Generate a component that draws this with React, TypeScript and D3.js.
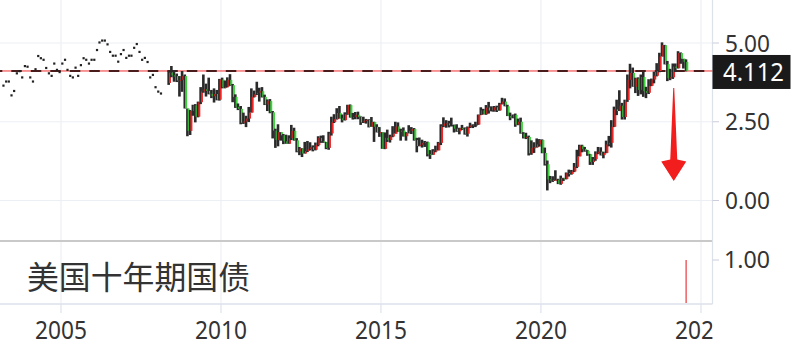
import React from 'react';
import * as d3 from 'd3';

// monthly closes drawn as dots, Mar 2003 onwards
const dotStart = [2003, 2];
const dotCloses = [
  3.65, 3.78, 3.78, 3.34, 3.48, 4.04, 4.11, 3.91, 4.27, 4.25, 3.91, 3.78,
  4.17, 4.59, 4.52, 4.47, 4.21, 4.04, 3.96, 4.35, 4.15, 4.08, 4.35, 4.47,
  4.15, 3.96, 3.91, 4.22, 3.96, 4.3, 4.52, 4.47, 4.35, 4.47, 4.47, 4.78,
  5.02, 5.08, 5.08, 4.96, 4.72, 4.6, 4.6, 4.41, 4.65, 4.78, 4.53, 4.6,
  4.6, 4.85, 4.97, 4.72, 4.47, 4.53, 4.4, 3.91, 3.99, 3.6, 3.46, 3.4,
];

// monthly candles [open, high, low, close], May 2008 onwards
const candleStart = [2008, 4];
const ohlc2008 = [
  [3.73, 4.1, 3.67, 4.06], [4.06, 4.27, 3.91, 3.97], [3.97, 4.14, 3.77, 3.95], [3.95, 4.03, 3.76, 3.81],
  [3.81, 3.95, 3.3, 3.83], [3.83, 4.11, 3.45, 3.95], [3.95, 4.0, 2.92, 2.92], [2.92, 2.92, 2.04, 2.21],
];
const ohlc2009 = [
  [2.21, 2.87, 2.08, 2.84], [2.84, 3.04, 2.69, 3.02], [3.02, 3.06, 2.48, 2.66], [2.66, 3.14, 2.64, 3.12],
  [3.12, 3.6, 3.06, 3.46], [3.46, 4.0, 3.42, 3.53], [3.53, 3.71, 3.3, 3.48], [3.48, 3.9, 3.37, 3.39],
  [3.39, 3.51, 3.25, 3.31], [3.31, 3.56, 3.11, 3.38], [3.38, 3.51, 3.18, 3.2], [3.2, 3.86, 3.17, 3.84],
];
const ohlc2010 = [
  [3.84, 3.9, 3.56, 3.59], [3.59, 3.81, 3.56, 3.61], [3.61, 3.91, 3.59, 3.83], [3.83, 4.01, 3.64, 3.66],
  [3.66, 3.7, 3.12, 3.29], [3.29, 3.37, 2.94, 2.97], [2.97, 3.08, 2.87, 2.91], [2.91, 3.0, 2.42, 2.47],
  [2.47, 2.79, 2.43, 2.51], [2.51, 2.69, 2.33, 2.6], [2.6, 2.97, 2.49, 2.79], [2.79, 3.56, 2.79, 3.29],
];
const ohlc2011 = [
  [3.29, 3.49, 3.27, 3.37], [3.37, 3.77, 3.35, 3.42], [3.42, 3.58, 3.14, 3.47], [3.47, 3.6, 3.27, 3.29],
  [3.29, 3.36, 3.03, 3.05], [3.05, 3.21, 2.84, 3.16], [3.16, 3.22, 2.77, 2.8], [2.8, 2.84, 1.97, 2.22],
  [2.22, 2.28, 1.67, 1.92], [1.92, 2.42, 1.72, 2.17], [2.17, 2.17, 1.9, 2.07], [2.07, 2.11, 1.79, 1.88],
];
const ohlc2012 = [
  [1.88, 2.09, 1.8, 1.8], [1.8, 2.07, 1.8, 1.98], [1.98, 2.4, 1.92, 2.21], [2.21, 2.31, 1.9, 1.91],
  [1.91, 1.98, 1.53, 1.56], [1.56, 1.7, 1.44, 1.65], [1.65, 1.66, 1.38, 1.49], [1.49, 1.86, 1.49, 1.57],
  [1.57, 1.89, 1.54, 1.63], [1.63, 1.85, 1.59, 1.69], [1.69, 1.75, 1.56, 1.61], [1.61, 1.84, 1.59, 1.76],
];
const ohlc2013 = [
  [1.76, 2.04, 1.72, 1.99], [1.99, 2.06, 1.83, 1.88], [1.88, 2.07, 1.83, 1.85], [1.85, 1.86, 1.63, 1.67],
  [1.67, 2.18, 1.61, 2.13], [2.13, 2.66, 2.06, 2.49], [2.49, 2.74, 2.46, 2.58], [2.58, 2.93, 2.57, 2.78],
  [2.78, 3.0, 2.6, 2.61], [2.61, 2.73, 2.48, 2.55], [2.55, 2.8, 2.54, 2.74], [2.74, 3.04, 2.72, 3.03],
];
const ohlc2014 = [
  [3.03, 3.05, 2.63, 2.64], [2.64, 2.78, 2.57, 2.65], [2.65, 2.81, 2.58, 2.72], [2.72, 2.82, 2.58, 2.65],
  [2.65, 2.67, 2.4, 2.48], [2.48, 2.66, 2.46, 2.53], [2.53, 2.59, 2.44, 2.56], [2.56, 2.58, 2.32, 2.34],
  [2.34, 2.65, 2.34, 2.49], [2.49, 2.5, 1.86, 2.34], [2.34, 2.42, 2.16, 2.16], [2.16, 2.33, 2.02, 2.17],
];
const ohlc2015 = [
  [2.17, 2.17, 1.64, 1.64], [1.64, 2.16, 1.63, 1.99], [1.99, 2.25, 1.86, 1.92], [1.92, 2.09, 1.84, 2.03],
  [2.03, 2.36, 2.01, 2.12], [2.12, 2.5, 2.12, 2.35], [2.35, 2.48, 2.18, 2.18], [2.18, 2.28, 1.9, 2.22],
  [2.22, 2.32, 2.03, 2.04], [2.04, 2.17, 1.9, 2.14], [2.14, 2.39, 2.13, 2.21], [2.21, 2.33, 2.11, 2.27],
];
const ohlc2016 = [
  [2.27, 2.3, 1.9, 1.92], [1.92, 1.99, 1.53, 1.73], [1.73, 2.0, 1.72, 1.77], [1.77, 1.93, 1.68, 1.83],
  [1.83, 1.89, 1.7, 1.85], [1.85, 1.87, 1.4, 1.47], [1.47, 1.6, 1.32, 1.45], [1.45, 1.63, 1.45, 1.58],
  [1.58, 1.74, 1.53, 1.59], [1.59, 1.86, 1.59, 1.83], [1.83, 2.42, 1.76, 2.37], [2.37, 2.64, 2.33, 2.44],
];
const ohlc2017 = [
  [2.44, 2.55, 2.31, 2.45], [2.45, 2.53, 2.32, 2.39], [2.39, 2.63, 2.35, 2.39], [2.39, 2.41, 2.16, 2.28],
  [2.28, 2.42, 2.18, 2.2], [2.2, 2.31, 2.1, 2.3], [2.3, 2.4, 2.24, 2.29], [2.29, 2.32, 2.09, 2.12],
  [2.12, 2.35, 2.03, 2.33], [2.33, 2.47, 2.3, 2.38], [2.38, 2.42, 2.3, 2.41], [2.41, 2.5, 2.33, 2.41],
];
const ohlc2018 = [
  [2.41, 2.73, 2.4, 2.72], [2.72, 2.96, 2.71, 2.86], [2.86, 2.91, 2.73, 2.74], [2.74, 3.03, 2.72, 2.95],
  [2.95, 3.13, 2.76, 2.86], [2.86, 2.99, 2.83, 2.86], [2.86, 3.0, 2.82, 2.96], [2.96, 3.01, 2.81, 2.86],
  [2.86, 3.1, 2.85, 3.06], [3.06, 3.26, 3.05, 3.14], [3.14, 3.24, 2.99, 2.99], [2.99, 3.04, 2.68, 2.68],
];
const ohlc2019 = [
  [2.68, 2.79, 2.55, 2.63], [2.63, 2.73, 2.61, 2.72], [2.72, 2.76, 2.34, 2.41], [2.41, 2.6, 2.39, 2.5],
  [2.5, 2.63, 2.12, 2.12], [2.12, 2.17, 1.97, 2.0], [2.0, 2.15, 1.95, 2.02], [2.02, 2.06, 1.43, 1.5],
  [1.5, 1.91, 1.45, 1.67], [1.67, 1.85, 1.51, 1.69], [1.69, 1.97, 1.68, 1.78], [1.78, 1.95, 1.71, 1.92],
];
const ohlc2020 = [
  [1.92, 1.94, 1.5, 1.51], [1.51, 1.68, 1.11, 1.15], [1.15, 1.27, 0.32, 0.67], [0.67, 0.78, 0.55, 0.64],
  [0.64, 0.77, 0.59, 0.65], [0.65, 0.96, 0.63, 0.66], [0.66, 0.69, 0.52, 0.53], [0.53, 0.79, 0.5, 0.71],
  [0.71, 0.72, 0.62, 0.68], [0.68, 0.89, 0.67, 0.87], [0.87, 0.98, 0.76, 0.84], [0.84, 0.97, 0.82, 0.92],
];
const ohlc2021 = [
  [0.92, 1.19, 0.9, 1.07], [1.07, 1.61, 1.03, 1.4], [1.4, 1.77, 1.4, 1.74], [1.74, 1.77, 1.53, 1.63],
  [1.63, 1.7, 1.55, 1.58], [1.58, 1.6, 1.42, 1.47], [1.47, 1.48, 1.13, 1.22], [1.22, 1.38, 1.13, 1.31],
  [1.31, 1.56, 1.26, 1.49], [1.49, 1.7, 1.47, 1.55], [1.55, 1.69, 1.43, 1.44], [1.44, 1.55, 1.34, 1.51],
];
const ohlc2022 = [
  [1.51, 1.9, 1.5, 1.78], [1.78, 2.05, 1.72, 1.83], [1.83, 2.55, 1.68, 2.34], [2.34, 2.98, 2.33, 2.89],
  [2.89, 3.2, 2.71, 2.84], [2.84, 3.5, 2.84, 3.01], [3.01, 3.1, 2.57, 2.65], [2.65, 3.2, 2.57, 3.19],
  [3.19, 4.0, 3.13, 3.83], [3.83, 4.34, 3.56, 4.05], [4.05, 4.22, 3.61, 3.61], [3.61, 3.9, 3.41, 3.87],
];
const ohlc2023 = [
  [3.87, 3.91, 3.32, 3.51], [3.51, 4.0, 3.37, 3.92], [3.92, 4.09, 3.29, 3.47], [3.47, 3.61, 3.25, 3.42],
  [3.42, 3.85, 3.38, 3.64], [3.64, 3.87, 3.63, 3.84], [3.84, 4.09, 3.72, 3.96], [3.96, 4.36, 3.94, 4.11],
  [4.11, 4.69, 4.07, 4.57], [4.57, 5.02, 4.57, 4.93], [4.93, 4.94, 4.32, 4.33], [4.33, 4.43, 3.79, 3.88],
];
const ohlc2024 = [
  [3.88, 4.18, 3.82, 3.91], [3.91, 4.35, 3.86, 4.25], [4.25, 4.35, 4.08, 4.2], [4.2, 4.74, 4.19, 4.68],
  [4.68, 4.7, 4.34, 4.5], [4.5, 4.5, 4.19, 4.4], [4.4, 4.48, 4.1, 4.112],
];

const yearTicks = [2005, 2010, 2015, 2020, 2025];
const priceTicks = [5, 2.5, 0];
const volumeTicks = [1];
const volumeBars = [{ month: [2024, 6], value: 1 }];
const lastPrice = 4.112;
const arrowMarker = { month: [2024, 1], day: 25, from: 3.57, headAt: 1.3, to: 0.62 };
const title = '美国十年期国债';

const W = 800;
const H = 363;
const plotRight = 712.5;
const paneSplit = 241;
const paneBottom = 304;
const FONT = '"Noto Sans", "Open Sans", sans-serif';

const monthDate = (start: number[], i: number, day = 15) =>
  new Date(start[0], start[1] + i, day);

export default function App() {
  const x = d3
    .scaleTime()
    .domain([new Date(2005, 0, 1), new Date(2025, 0, 1)])
    .range([61, 701]);
  const y = d3.scaleLinear().domain([0, 5]).range([200.5, 43]);
  const yVol = d3.scaleLinear().domain([0, 1]).range([paneBottom - 1, 260]);

  const candles = [
    ...ohlc2008, ...ohlc2009, ...ohlc2010, ...ohlc2011, ...ohlc2012, ...ohlc2013,
    ...ohlc2014, ...ohlc2015, ...ohlc2016, ...ohlc2017, ...ohlc2018, ...ohlc2019,
    ...ohlc2020, ...ohlc2021, ...ohlc2022, ...ohlc2023, ...ohlc2024,
  ].map((d, i) => ({ date: monthDate(candleStart, i), o: d[0], h: d[1], l: d[2], c: d[3] }));

  const dots = dotCloses.map((v, i) => ({ date: monthDate(dotStart, i), v }));

  const ax = x(new Date(arrowMarker.month[0], arrowMarker.month[1], arrowMarker.day));
  const aTop = y(arrowMarker.from);
  const aHead = y(arrowMarker.headAt);
  const aBot = y(arrowMarker.to);
  const arrow = [
    [ax - 0.5, aTop], [ax + 0.5, aTop], [ax + 3.5, aHead], [ax + 12.5, aHead + 2],
    [ax, aBot], [ax - 12.5, aHead + 2], [ax - 3.5, aHead],
  ];

  const gridColor = '#eceff4';
  const textColor = '#333';

  return (
    <svg
      width={W}
      height={H}
      style={{ position: 'absolute', left: 0, top: 0, display: 'block', background: '#fff' }}
    >
      <defs>
        <clipPath id="plotClip">
          <rect x={0} y={0} width={plotRight} height={H} />
        </clipPath>
      </defs>

      {/* grid */}
      {yearTicks.map(t => (
        <line key={'vg' + t} x1={x(new Date(t, 0, 1))} x2={x(new Date(t, 0, 1))} y1={0} y2={paneBottom}
          stroke={gridColor} strokeWidth={1.2} />
      ))}
      {priceTicks.map(t => (
        <line key={'hg' + t} x1={0} x2={plotRight} y1={y(t)} y2={y(t)} stroke={gridColor} strokeWidth={1.2} />
      ))}

      {/* pane borders */}
      <line x1={0} x2={plotRight} y1={paneSplit} y2={paneSplit} stroke="#c9c9c9" strokeWidth={2} />
      <line x1={0} x2={plotRight} y1={paneBottom} y2={paneBottom} stroke="#dde2ea" strokeWidth={1.5} />
      <line x1={plotRight} x2={plotRight} y1={0} y2={paneBottom} stroke="#dde2ea" strokeWidth={1.2} />

      {/* last price line */}
      <line x1={0} x2={plotRight} y1={y(lastPrice)} y2={y(lastPrice)} stroke="#f03030" strokeWidth={1} />
      <line x1={0} x2={plotRight} y1={y(lastPrice)} y2={y(lastPrice)} stroke="#4a1c1c" strokeWidth={2}
        strokeDasharray="10.5 9" strokeDashoffset={8.2} />

      {/* dots */}
      {dots.map((d, i) => (
        <rect key={'d' + i} x={x(d.date) - 1} y={y(d.v) - 1} width={2.2} height={2.2} fill="#222" />
      ))}

      {/* candles */}
      {candles.map((d, i) => {
        const cx = x(d.date);
        const up = d.c > d.o;
        const col = d.c === d.o ? '#222' : up ? '#f02424' : '#3bd43b';
        const top = y(Math.max(d.o, d.c));
        const bot = y(Math.min(d.o, d.c));
        return (
          <g key={'c' + i}>
            <rect x={cx - 1.4} y={y(d.h)} width={2.6} height={Math.max(1, y(d.l) - y(d.h))} fill="#2a2a2a" />
            <rect x={cx + 0.2} y={top} width={2} height={Math.max(1, bot - top)} fill={col} />
          </g>
        );
      })}

      {/* arrow */}
      <polygon points={arrow.map(p => p.join(',')).join(' ')} fill="#f21d1d" />

      {/* volume pane */}
      {volumeBars.map((v, i) => {
        const vx = x(new Date(v.month[0], v.month[1], 15));
        return <line key={'v' + i} x1={vx} x2={vx} y1={yVol(v.value)} y2={paneBottom - 1} stroke="#e8383d" strokeWidth={1.2} />;
      })}
      <text x={27} y={289} fontFamily='"Noto Sans CJK SC", sans-serif' fontSize={32} fill={textColor}
        textLength={223} lengthAdjust="spacingAndGlyphs">{title}</text>

      {/* right axis */}
      {priceTicks.map(t => (
        <g key={'py' + t}>
          <line x1={plotRight} x2={719} y1={y(t)} y2={y(t)} stroke="#ccd" strokeWidth={1} />
          <text x={725} y={y(t) + 8.5} fontFamily={FONT} fontSize={24} fill={textColor}
            textLength={45} lengthAdjust="spacingAndGlyphs">{d3.format('.2f')(t)}</text>
        </g>
      ))}
      {volumeTicks.map(t => (
        <g key={'vy' + t}>
          <line x1={plotRight} x2={719} y1={yVol(t)} y2={yVol(t)} stroke="#ccd" strokeWidth={1} />
          <text x={724} y={yVol(t) + 8} fontFamily={FONT} fontSize={24} fill={textColor}
            textLength={46} lengthAdjust="spacingAndGlyphs">{d3.format('.2f')(t)}</text>
        </g>
      ))}
      <rect x={plotRight} y={y(lastPrice) - 16} width={78} height={34} fill="#1a1a1a" />
      <text x={723} y={y(lastPrice) + 10} fontFamily={FONT} fontSize={25} fill="#fff"
        textLength={61} lengthAdjust="spacingAndGlyphs">{lastPrice.toFixed(3)}</text>

      {/* bottom axis */}
      <g clipPath="url(#plotClip)">
        {yearTicks.map(t => {
          const tx = x(new Date(t, 0, 1));
          return (
            <g key={'xt' + t}>
              <line x1={tx} x2={tx} y1={paneBottom} y2={paneBottom + 9} stroke="#dde2ea" strokeWidth={1.2} />
              <text x={tx - 26} y={339} fontFamily={FONT} fontSize={25} fill={textColor}
                textLength={52} lengthAdjust="spacingAndGlyphs">{t}</text>
            </g>
          );
        })}
      </g>
    </svg>
  );
}
